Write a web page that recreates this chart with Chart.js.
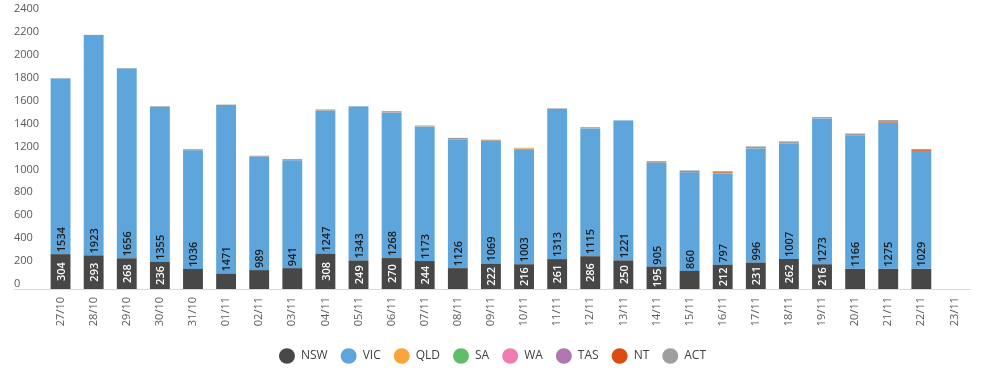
<!DOCTYPE html>
<html>
<head>
<meta charset="utf-8">
<script src="https://cdn.jsdelivr.net/npm/chart.js@4"></script>
<style>
  html, body { margin: 0; padding: 0; background: #fff; }
  #wrap { width: 984px; height: 372px; }
</style>
</head>
<body>
<div id="wrap"><canvas id="casesChart"></canvas></div>
<script>
// ---- Data ----
const days = ['27/10', '28/10', '29/10', '30/10', '31/10', '01/11', '02/11', '03/11', '04/11', '05/11',
  '06/11', '07/11', '08/11', '09/11', '10/11', '11/11', '12/11', '13/11', '14/11', '15/11',
  '16/11', '17/11', '18/11', '19/11', '20/11', '21/11', '22/11', '23/11'];

const nsw = [304, 293, 268, 236, 175, 135, 165, 182, 308, 249, 270, 244, 182, 222, 216, 261, 286, 250, 195, 158,
  212, 231, 262, 216, 176, 176, 176, null];
const vic = [1534, 1923, 1656, 1355, 1036, 1471, 989, 941, 1247, 1343, 1268, 1173, 1126, 1069, 1003, 1313, 1115, 1221, 905, 860,
  797, 996, 1007, 1273, 1166, 1275, 1029, null];
const qld = [1, 0, 1, 1, 0, 1, 0, 1, 1, 0, 1, 1, 1, 2, 8, 1, 1, 0, 1, 1, 1, 1, 1, 0, 1, 1, 1, null];
const sa  = [0, 0, 0, 0, 1, 0, 0, 0, 1, 0, 0, 1, 0, 0, 1, 0, 0, 0, 0, 0, 0, 1, 0, 0, 0, 0, 0, null];
const wa  = [0, 0, 0, 1, 0, 0, 1, 0, 0, 0, 1, 0, 0, 0, 0, 1, 0, 0, 0, 0, 0, 0, 0, 1, 0, 0, 0, null];
const tas = [0, 0, 0, 0, 0, 0, 0, 0, 0, 0, 0, 0, 0, 0, 0, 0, 0, 0, 0, 0, 0, 0, 0, 0, 0, 0, 0, null];
const nt  = [0, 0, 0, 0, 0, 0, 0, 0, 0, 0, 0, 0, 0, 0, 0, 0, 0, 0, 0, 8, 8, 7, 0, 0, 0, 8, 8, null];
const act = [2, 2, 4, 4, 8, 3, 8, 10, 10, 3, 12, 8, 10, 10, 4, 3, 10, 2, 15, 8, 10, 8, 18, 10, 14, 14, 8, null];

const yTicks = { min: 0, max: 2400, step: 200 };

const series = [
  { label: 'NSW', data: nsw, color: '#474747' },
  { label: 'VIC', data: vic, color: '#5DA5DA' },
  { label: 'QLD', data: qld, color: '#FAA43A' },
  { label: 'SA',  data: sa,  color: '#60BD68' },
  { label: 'WA',  data: wa,  color: '#F17CB0' },
  { label: 'TAS', data: tas, color: '#B276B2' },
  { label: 'NT',  data: nt,  color: '#DA4C10' },
  { label: 'ACT', data: act, color: '#9E9E9E' }
];

Chart.defaults.font.family = "'Open Sans', 'Noto Sans', sans-serif";
Chart.defaults.color = '#595959';

// ---- Plugins ----
// rotated value labels inside NSW / VIC segments
const barLabels = {
  id: 'barLabels',
  afterDatasetsDraw(chart) {
    const ctx = chart.ctx;
    ctx.save();
    ctx.font = "600 11px 'Open Sans', sans-serif";
    ctx.textBaseline = 'middle';
    [0, 1].forEach(di => {
      const meta = chart.getDatasetMeta(di);
      meta.data.forEach((bar, i) => {
        const v = chart.data.datasets[di].data[i];
        if (v == null) return;
        if (di === 0 && v < 190) return; // too small to fit
        const { x, y, base } = bar.getProps(['x', 'y', 'base'], true);
        ctx.save();
        if (di === 0) {
          ctx.translate(x, (y + base) / 2);
          ctx.rotate(-Math.PI / 2);
          ctx.textAlign = 'center';
          ctx.fillStyle = '#ffffff';
        } else {
          ctx.translate(x, base - 2);
          ctx.rotate(-Math.PI / 2);
          ctx.textAlign = 'left';
          ctx.fillStyle = '#1a1a1a';
        }
        ctx.fillText(String(v), 0, 1);
        ctx.restore();
      });
    });
    ctx.restore();
  }
};

// light baseline running under the value axis labels too
const baseLine = {
  id: 'baseLine',
  beforeDatasetsDraw(chart) {
    const { ctx, chartArea } = chart;
    ctx.save();
    ctx.strokeStyle = '#d9d9d9';
    ctx.lineWidth = 1;
    ctx.beginPath();
    ctx.moveTo(14, Math.round(chartArea.bottom) + 0.5);
    ctx.lineTo(chartArea.right, Math.round(chartArea.bottom) + 0.5);
    ctx.stroke();
    ctx.restore();
  }
};

new Chart(document.getElementById('casesChart'), {
  type: 'bar',
  data: {
    labels: days,
    datasets: series.map(s => ({
      label: s.label,
      data: s.data,
      backgroundColor: s.color,
      borderWidth: 0,
      barPercentage: 1,
      categoryPercentage: 0.6
    }))
  },
  options: {
    responsive: true,
    maintainAspectRatio: false,
    animation: false,
    layout: { padding: { left: 14, right: 13, top: 14, bottom: 0 } },
    plugins: {
      legend: {
        position: 'bottom',
        labels: {
          usePointStyle: true,
          pointStyle: 'circle',
          boxHeight: 11,
          pointStyleWidth: 16,
          padding: 13,
          color: '#404040',
          font: { size: 12 }
        }
      },
      tooltip: { enabled: false }
    },
    scales: {
      x: {
        stacked: true,
        grid: { display: false, drawTicks: false },
        border: { display: false },
        ticks: { maxRotation: 90, minRotation: 90, padding: 8, font: { size: 11 }, color: '#595959' },
        afterFit: s => { s.height = 48; }
      },
      y: {
        stacked: true,
        min: yTicks.min,
        max: yTicks.max,
        grid: { display: false, drawTicks: false },
        border: { display: false },
        ticks: {
          stepSize: yTicks.step, crossAlign: 'far', labelOffset: -5, padding: 0,
          font: { size: 11 }, color: '#595959',
          callback: v => String(v)
        },
        afterFit: s => { s.width = 30; }
      }
    }
  },
  plugins: [barLabels, baseLine]
});
</script>
</body>
</html>
